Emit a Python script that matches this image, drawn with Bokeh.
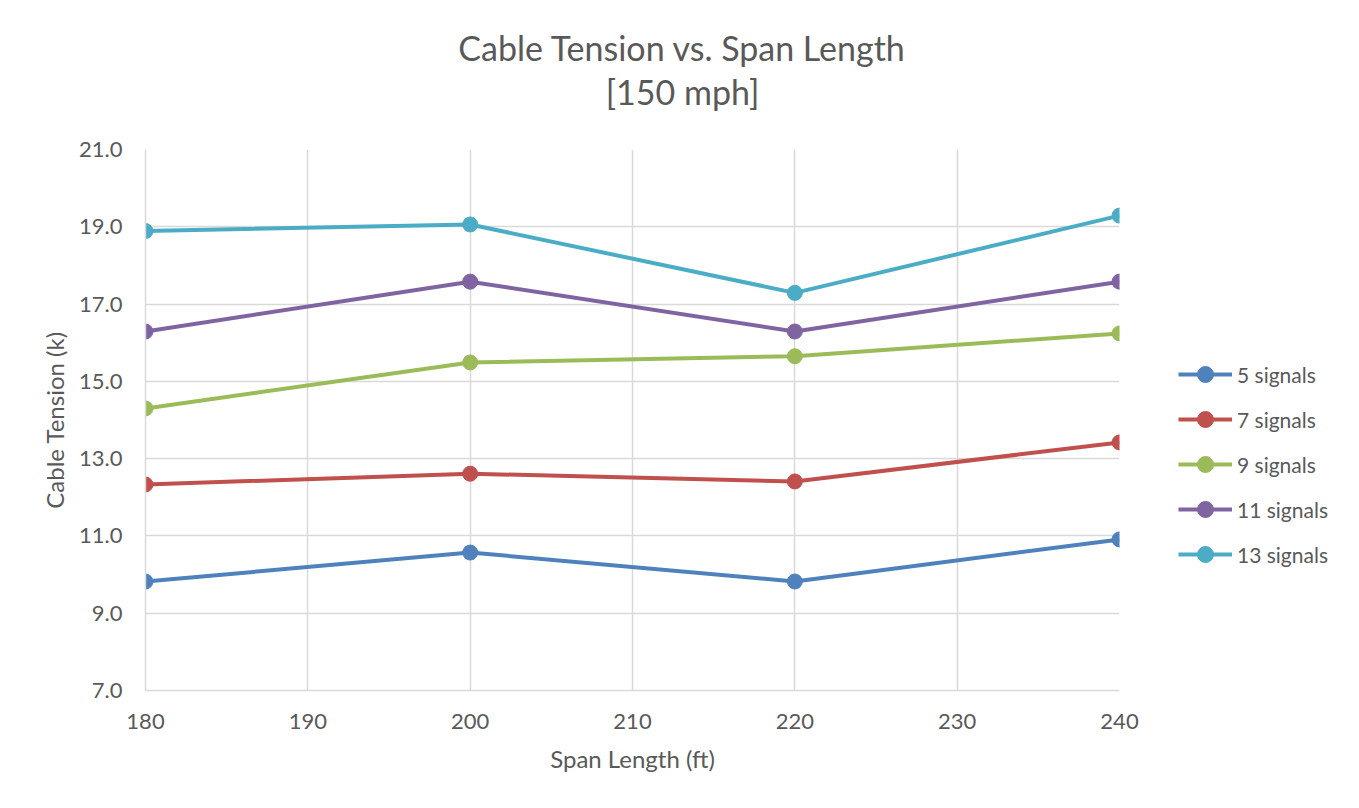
from bokeh.plotting import figure
from bokeh.layouts import column, row
from bokeh.models import (FixedTicker, NumeralTickFormatter, Range1d, Legend,
                          LegendItem, Label)
from bokeh.embed import file_html
from bokeh.resources import INLINE

# ---- data ----
span_ft = [180, 200, 220, 240]
series_names = ["5 signals", "7 signals", "9 signals", "11 signals", "13 signals"]
s5 = [9.82, 10.57, 9.82, 10.91]
s7 = [12.33, 12.61, 12.41, 13.42]
s9 = [14.30, 15.49, 15.65, 16.24]
s11 = [16.29, 17.58, 16.29, 17.58]
s13 = [18.89, 19.06, 17.29, 19.29]
series_values = [s5, s7, s9, s11, s13]
colors = ["#4F81BD", "#C0504D", "#9BBB59", "#8064A2", "#4BACC6"]
x_ticks = [180, 190, 200, 210, 220, 230, 240]
y_ticks = [7, 9, 11, 13, 15, 17, 19, 21]
title_line1 = "Cable Tension vs. Span Length"
title_line2 = "[150 mph]"

FONT = "Lato"
TXT = "#595959"
GRID = "#D9D9D9"

TOTAL_W = 1343
TITLE_H = 120
MAIN_W = 1159
BODY_H = 672

# ---- title strip ----
pt = figure(width=TOTAL_W, height=TITLE_H, output_backend="svg",
            toolbar_location=None, x_axis_type=None, y_axis_type=None,
            title_location=None, min_border=0,
            x_range=Range1d(0, 1), y_range=Range1d(0, 1))
pt.outline_line_color = None
pt.grid.visible = False
pt.add_layout(Label(x=682, y=73, x_units="screen", y_units="screen",
                    text=title_line1, text_align="center",
                    text_baseline="alphabetic", text_font=FONT,
                    text_font_size="34px", text_color=TXT))
pt.add_layout(Label(x=682, y=29, x_units="screen", y_units="screen",
                    text=title_line2, text_align="center",
                    text_baseline="alphabetic", text_font=FONT,
                    text_font_size="34px", text_color=TXT))

# ---- main chart ----
p = figure(width=MAIN_W, height=BODY_H, output_backend="svg",
           toolbar_location=None, title_location=None,
           x_range=Range1d(180, 240), y_range=Range1d(7, 21),
           min_border_left=145, min_border_right=40,
           min_border_top=29, min_border_bottom=102)
p.outline_line_color = None

for ax in (p.xaxis[0], p.yaxis[0]):
    ax.axis_line_color = GRID
    ax.axis_line_width = 1.5
    ax.major_tick_line_color = None
    ax.minor_tick_line_color = None
    ax.major_tick_out = 0
    ax.major_tick_in = 0
    ax.major_label_text_font = FONT
    ax.major_label_text_font_size = "22px"
    ax.major_label_text_color = TXT
    ax.axis_label_text_font = FONT
    ax.axis_label_text_font_size = "24px"
    ax.axis_label_text_font_style = "normal"
    ax.axis_label_text_color = TXT

p.xaxis.ticker = FixedTicker(ticks=x_ticks)
p.yaxis.ticker = FixedTicker(ticks=y_ticks)
p.yaxis.formatter = NumeralTickFormatter(format="0.0")
p.xaxis.axis_label = "Span Length (ft)"
p.yaxis.axis_label = "Cable Tension (k)"
p.xaxis.major_label_standoff = 23
p.yaxis.major_label_standoff = 23
p.xaxis.axis_label_standoff = 12
p.yaxis.axis_label_standoff = 7

p.xgrid.ticker = FixedTicker(ticks=x_ticks)
p.ygrid.ticker = FixedTicker(ticks=y_ticks)
for g in (p.xgrid[0], p.ygrid[0]):
    g.grid_line_color = GRID
    g.grid_line_width = 1.5

for vals, c in zip(series_values, colors):
    p.line(span_ft, vals, line_color=c, line_width=4)
    p.scatter(span_ft, vals, size=15, fill_color=c, line_color=c)

# ---- legend strip (same series, drawn off-range so only the legend shows) ----
pl = figure(width=TOTAL_W - MAIN_W, height=BODY_H, output_backend="svg",
            toolbar_location=None, x_axis_type=None, y_axis_type=None,
            title_location=None, min_border=0,
            x_range=Range1d(0, 1), y_range=Range1d(0, 1))
pl.outline_line_color = None
pl.grid.visible = False
items = []
for name, vals, c in zip(series_names, series_values, colors):
    ln = pl.line(span_ft, vals, line_color=c, line_width=4)
    sc = pl.scatter(span_ft, vals, size=15, fill_color=c, line_color=c)
    items.append(LegendItem(label=name, renderers=[ln, sc]))

legend = Legend(items=items, location=(19, 116), orientation="vertical",
                glyph_width=54, glyph_height=40, label_height=40,
                spacing=5, padding=0, margin=0, label_standoff=5,
                label_text_font=FONT, label_text_font_size="21px",
                label_text_color=TXT, border_line_alpha=0,
                background_fill_alpha=0)
pl.add_layout(legend)

layout = column(pt, row(p, pl, spacing=0), spacing=0)

open("out.html", "w").write(file_html(layout, INLINE))
